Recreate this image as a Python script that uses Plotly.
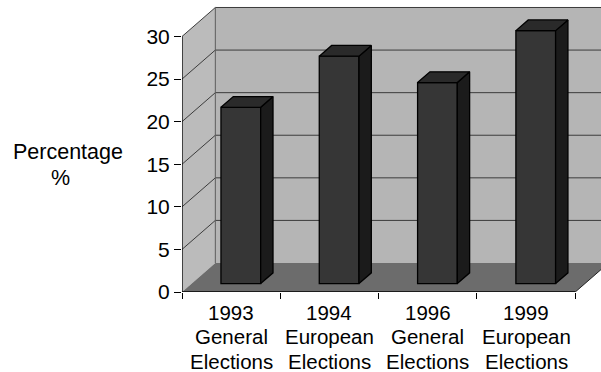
import plotly.graph_objects as go

# Election results (percentage of the vote)
years = ["1993", "1994", "1996", "1999"]
elections = ["General", "European", "General", "European"]
percentages = [20.7, 26.7, 23.6, 29.7]
y_ticks = [0, 5, 10, 15, 20, 25, 30]

# Oblique "3D" box geometry, in axis units
DX, DY = 0.339, 3.405          # depth offset of the back wall
F_FRONT, F_BACK = 0.29, 0.66   # bar front/back planes as fraction of depth
BAR_W = 0.404
Y_TOP = 30
N = len(years)

WALL_BACK = "#b5b5b5"
WALL_LEFT = "#bbbbbb"
FLOOR = "#6c6c6c"
GRID = "#3c3c3c"
FRONT = "#363636"
SIDE = "#1b1b1b"
TOP = "#2a2a2a"

PLOT_H = 292  # plot-area height in px (top margin 0)

centers = [i + 0.5 for i in range(N)]
label_lines = [years, elections, ["Elections"] * N]

fig = go.Figure()


def poly(points, fill, line_color=None, width=0):
    path = "M " + " L ".join(f"{x},{y}" for x, y in points) + " Z"
    return dict(type="path", path=path, xref="x", yref="y", layer="below",
                fillcolor=fill, line=dict(color=line_color or fill, width=width))


def seg(x0, y0, x1, y1, color=GRID, width=1):
    return dict(type="line", x0=x0, y0=y0, x1=x1, y1=y1, xref="x", yref="y",
                layer="below", line=dict(color=color, width=width))


shapes = []
# walls and floor
shapes.append(poly([(0, 0), (0, Y_TOP), (DX, Y_TOP + DY), (DX, DY)], WALL_LEFT))
shapes.append(poly([(DX, DY), (DX, Y_TOP + DY), (N + DX, Y_TOP + DY), (N + DX, DY)], WALL_BACK))
shapes.append(poly([(0, 0), (N, 0), (N + DX, DY), (DX, DY)], FLOOR))
# gridlines on the back and left walls
for v in y_ticks[1:]:
    shapes.append(seg(DX, v + DY, N + DX, v + DY))
    shapes.append(seg(0, v, DX, v + DY))
shapes.append(seg(DX, DY, DX, Y_TOP + DY, color="#5a5a5a"))
# floor edges and front value axis
shapes.append(seg(N, 0, N + DX, DY, color="#202020"))
shapes.append(seg(0, 0, N, 0, color="black", width=1.3))
shapes.append(seg(0, 0, 0, Y_TOP, color="black", width=1.3))

# bar front faces
fig.add_trace(go.Bar(
    x=centers, y=percentages, base=F_FRONT * DY,
    width=BAR_W, offset=F_FRONT * DX - BAR_W / 2,
    marker=dict(color=FRONT, line=dict(color="black", width=1.3)),
    hoverinfo="skip", showlegend=False,
))

# bar side and top faces
for c, v in zip(centers, percentages):
    xl_f = c + F_FRONT * DX - BAR_W / 2
    xr_f = xl_f + BAR_W
    xl_b = c + F_BACK * DX - BAR_W / 2
    xr_b = xl_b + BAR_W
    b_f, b_b = F_FRONT * DY, F_BACK * DY
    side = [(xr_f, b_f), (xr_f, b_f + v), (xr_b, b_b + v), (xr_b, b_b), (xr_f, b_f)]
    top = [(xl_f, b_f + v), (xr_f, b_f + v), (xr_b, b_b + v), (xl_b, b_b + v), (xl_f, b_f + v)]
    for pts, col in ((side, SIDE), (top, TOP)):
        fig.add_trace(go.Scatter(
            x=[p[0] for p in pts], y=[p[1] for p in pts],
            mode="lines", fill="toself", fillcolor=col,
            line=dict(color="black", width=1.3),
            hoverinfo="skip", showlegend=False,
        ))

font = dict(family="Liberation Sans, Arial, sans-serif", color="black")


def paper_y(px):
    return (PLOT_H - px) / PLOT_H


# category labels, one annotation per text line
annotations = []
line_centers_px = [312.5, 336.5, 361]
for row, py in zip(label_lines, line_centers_px):
    for c, txt in zip(centers, row):
        annotations.append(dict(
            text=txt, xref="x", yref="paper", x=c, y=paper_y(py),
            xanchor="center", yanchor="middle", showarrow=False,
            font=dict(size=20.5, **font),
        ))

# value-axis title
for txt, px, py in (("Percentage", 68, 152), ("%", 60, 178.5)):
    annotations.append(dict(
        text=txt, xref="paper", yref="paper",
        x=(px - 182) / (601 - 182), y=paper_y(py),
        xanchor="center", yanchor="middle",
        showarrow=False, font=dict(size=21.5, **font),
    ))

fig.update_layout(
    width=601, height=372,
    margin=dict(l=182, r=0, t=0, b=372 - PLOT_H),
    paper_bgcolor="white", plot_bgcolor="white",
    shapes=shapes,
    font=font,
    xaxis=dict(
        range=[0, N + 0.262], tickvals=list(range(N + 1)),
        ticks="outside", ticklen=6, tickcolor="black", tickwidth=1.2,
        showticklabels=False, automargin=False,
        showgrid=False, zeroline=False, showline=False, fixedrange=True,
    ),
    yaxis=dict(
        range=[0, PLOT_H / 8.517], tickvals=y_ticks,
        ticks="outside", ticklen=7, tickcolor="black", tickwidth=1.2,
        tickfont=dict(size=21, **font), automargin=False,
        showgrid=False, zeroline=False, showline=False, fixedrange=True,
    ),
    annotations=annotations,
)

fig.write_html("out.html")
